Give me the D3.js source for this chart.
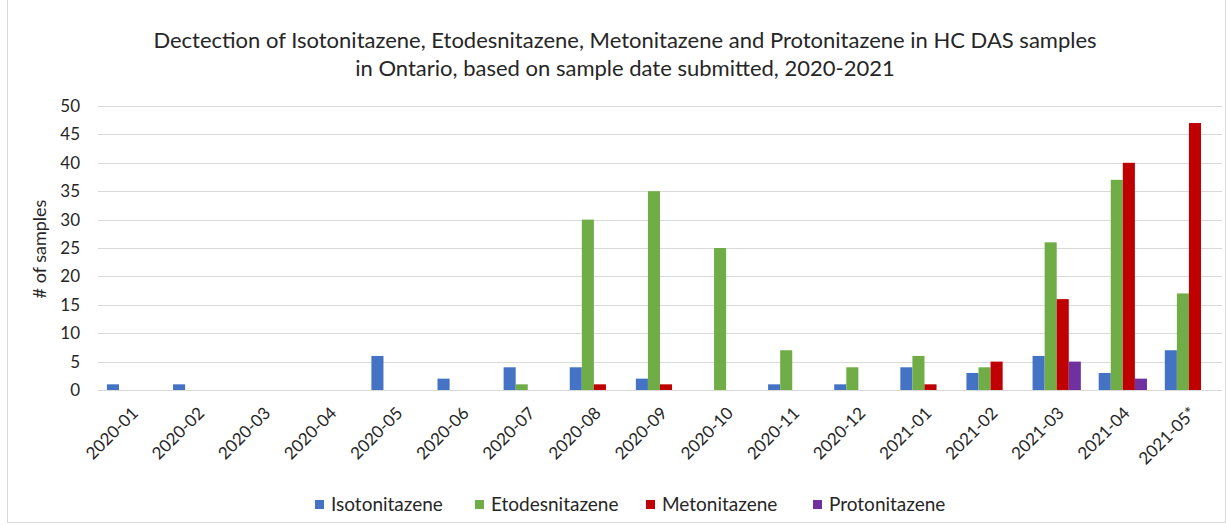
<!DOCTYPE html>
<html>
<head>
<meta charset="utf-8">
<script src="https://cdn.jsdelivr.net/npm/d3@7"></script>
<style>
  body { margin: 0; background: #fff; }
  text { font-family: Lato, "Liberation Sans", sans-serif; fill: #262626; }
</style>
</head>
<body>
<div class="container"></div>
<script>
const months = ['2020-01','2020-02','2020-03','2020-04','2020-05','2020-06','2020-07','2020-08','2020-09',
  '2020-10','2020-11','2020-12','2021-01','2021-02','2021-03','2021-04','2021-05*']
const seriesNames = ['Isotonitazene', 'Etodesnitazene', 'Metonitazene', 'Protonitazene']
const isotonitazene  = [1,1,0,0,6,2,4,4,2,0,1,1,4,3,6,3,7]
const etodesnitazene = [0,0,0,0,0,0,1,30,35,25,7,4,6,4,26,37,17]
const metonitazene   = [0,0,0,0,0,0,0,1,1,0,0,0,1,5,16,40,47]
const protonitazene  = [0,0,0,0,0,0,0,0,0,0,0,0,0,0,5,2,0]
const yTicks = [0,5,10,15,20,25,30,35,40,45,50]
const colors = ['#4472C4', '#70AD47', '#C00000', '#7030A0']

const width = 1226, height = 525
const values = [isotonitazene, etodesnitazene, metonitazene, protonitazene]
const data = months.map((m, i) => ({
  month: m,
  vals: seriesNames.map((s, j) => ({ series: s, idx: j, value: values[j][i] }))
}))

const svg = d3.select('.container').append('svg')
  .attr('width', width)
  .attr('height', height)

// chart border
svg.append('rect')
  .attr('x', 7.5).attr('y', -1)
  .attr('width', 1218).attr('height', 523.5)
  .attr('fill', 'none').attr('stroke', '#d9d9d9')

const x = d3.scaleBand().domain(months).range([98, 1222]).paddingInner(0.27).paddingOuter(0.135)
const x1 = d3.scaleBand().domain(seriesNames).range([0, x.bandwidth()])
const y = d3.scaleLinear().domain([0, 50]).range([390, 106])

// gridlines
svg.append('g').selectAll('line')
  .data(yTicks)
  .enter()
  .append('line')
  .attr('x1', 98).attr('x2', 1222)
  .attr('y1', d => Math.round(y(d)) + 0.5)
  .attr('y2', d => Math.round(y(d)) + 0.5)
  .attr('stroke', '#d9d9d9')
  .attr('stroke-width', 1)

// y axis labels
const yAxis = svg.append('g')
  .attr('transform', 'translate(80,0)')
  .call(d3.axisLeft(y).tickValues(yTicks).tickSize(0).tickPadding(0))
yAxis.select('.domain').remove()
yAxis.selectAll('text')
  .style('font-size', '17px')
  .style('font-family', 'Lato, sans-serif')
  .attr('fill', '#262626')

// bars
const groups = svg.append('g').selectAll('g')
  .data(data)
  .enter()
  .append('g')
  .attr('transform', d => `translate(${x(d.month)},0)`)

groups.selectAll('rect')
  .data(d => d.vals.filter(v => v.value > 0))
  .enter()
  .append('rect')
  .attr('x', d => x1(d.series))
  .attr('width', x1.bandwidth())
  .attr('y', d => y(d.value))
  .attr('height', d => y(0) - y(d.value))
  .attr('fill', d => colors[d.idx])

// x axis labels
const xAxis = svg.append('g')
  .attr('transform', 'translate(0,390)')
  .call(d3.axisBottom(x).tickSize(0).tickPadding(0))
xAxis.select('.domain').remove()
xAxis.selectAll('text')
  .style('font-size', '17px')
  .style('font-family', 'Lato, sans-serif')
  .attr('fill', '#1a1a1a')
  .attr('text-anchor', 'end')
  .attr('dy', '0.35em')
  .attr('transform', 'translate(4,20) rotate(-45)')

// y title
svg.append('text')
  .attr('transform', 'translate(46,249) rotate(-90)')
  .attr('text-anchor', 'middle')
  .style('font-size', '18px')
  .text('# of samples')

// title
const title = svg.append('text')
  .attr('text-anchor', 'middle')
  .style('font-size', '22px')
title.append('tspan').attr('x', 625).attr('y', 48)
  .text('Dectection of Isotonitazene, Etodesnitazene, Metonitazene and Protonitazene in HC DAS samples')
title.append('tspan').attr('x', 625).attr('y', 76)
  .text('in Ontario, based on sample date submitted, 2020-2021')

// legend
const legendX = [315, 475, 646, 813]
const legend = svg.append('g').selectAll('g')
  .data(seriesNames)
  .enter()
  .append('g')
  .attr('transform', (d, i) => `translate(${legendX[i]},500)`)
legend.append('rect')
  .attr('width', 9).attr('height', 9)
  .attr('fill', (d, i) => colors[i])
legend.append('text')
  .attr('x', 16).attr('y', 10.5)
  .style('font-size', '19px')
  .text(d => d)
</script>
</body>
</html>
